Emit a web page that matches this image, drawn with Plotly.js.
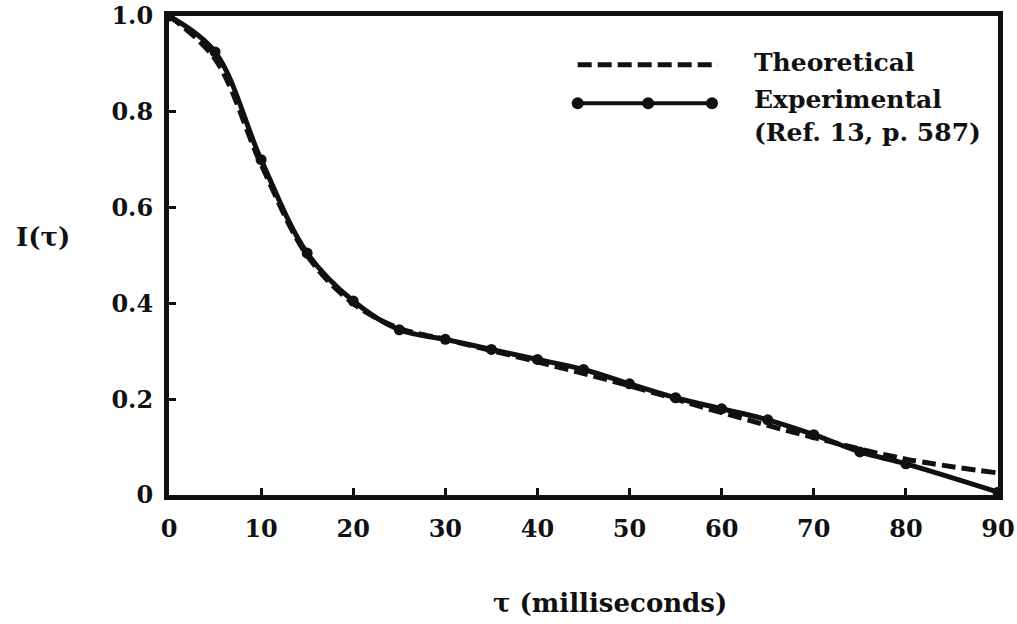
<!DOCTYPE html>
<html>
<head>
<meta charset="utf-8">
<script src="https://cdn.plot.ly/plotly-3.0.1.min.js"></script>
<style>html,body{margin:0;padding:0;background:#fff;}#chart{width:1017px;height:624px;}</style>
</head>
<body>
<div id="chart"></div>
<script>
// Data
const expTau = [0, 5, 10, 15, 20, 25, 30, 35, 40, 45, 50, 55, 60, 65, 70, 75, 80, 90];
const expI   = [1.0, 0.925, 0.70, 0.505, 0.405, 0.345, 0.325, 0.304, 0.283, 0.262, 0.232, 0.203, 0.180, 0.157, 0.126, 0.090, 0.065, 0.006];
const theoTau = [0, 5, 10, 15, 20, 25, 30, 40, 50, 60, 70, 80, 90];
const theoI   = [1.0, 0.91, 0.69, 0.50, 0.40, 0.348, 0.325, 0.278, 0.228, 0.172, 0.120, 0.075, 0.046];
const xTicks = [0, 10, 20, 30, 40, 50, 60, 70, 80, 90];
const yTicks = [0, 0.2, 0.4, 0.6, 0.8, 1.0];
const yTickText = ["0", "0.2", "0.4", "0.6", "0.8", "1.0"];
const legendLabels = ["Theoretical", "Experimental", "(Ref. 13, p. 587)"];
const xTitle = "τ (milliseconds)";
const yTitle = "I(τ)";

const FONT = "DejaVu Serif, Liberation Serif, serif";

const traces = [
  {x: theoTau, y: theoI, mode: "lines", line: {color: "#111", width: 5, dash: "14px,6px", shape: "spline", smoothing: 1.0}, hoverinfo: "skip"},
  {x: expTau, y: expI, mode: "lines+markers", line: {color: "#111", width: 5, shape: "spline", smoothing: 1.0},
   marker: {color: "#111", size: 11}, hoverinfo: "skip"}
];

function circ(xa, ya) {
  return {type: "circle", xref: "paper", yref: "paper", xsizemode: "pixel", ysizemode: "pixel",
    xanchor: xa, yanchor: ya, x0: -6, x1: 6, y0: -6, y1: 6, fillcolor: "#111", line: {width: 0}};
}

const layout = {
  width: 1017, height: 624,
  margin: {l: 169, r: 19, t: 16, b: 129},
  paper_bgcolor: "#fff", plot_bgcolor: "#fff",
  showlegend: false,
  font: {family: FONT, color: "#111", size: 20},
  xaxis: {range: [0, 90], tickvals: xTicks, ticktext: xTicks.map(String), ticks: "inside", ticklen: 7, tickwidth: 3,
    tickcolor: "#111", showline: true, linewidth: 5, linecolor: "#111", mirror: true, showgrid: false, zeroline: false,
    ticklabelstandoff: 8, tickfont: {family: FONT, size: 24, weight: "bold"}},
  yaxis: {range: [0, 1.0], tickvals: yTicks, ticktext: yTickText, ticks: "inside", ticklen: 7, tickwidth: 3,
    tickcolor: "#111", showline: true, linewidth: 5, linecolor: "#111", mirror: true, showgrid: false, zeroline: false,
    ticklabelstandoff: 6, tickfont: {family: FONT, size: 24, weight: "bold"}},
  shapes: [
    {type: "line", xref: "paper", yref: "paper", x0: 0.493, x1: 0.662, y0: 0.898, y1: 0.898,
     line: {color: "#111", width: 5, dash: "14px,6px"}},
    {type: "line", xref: "paper", yref: "paper", x0: 0.493, x1: 0.655, y0: 0.818, y1: 0.818,
     line: {color: "#111", width: 4}},
    circ(0.493, 0.818), circ(0.578, 0.818), circ(0.655, 0.818)
  ],
  annotations: [
    {xref: "paper", yref: "paper", x: 0.703, y: 0.902, xanchor: "left", yanchor: "middle", showarrow: false,
     text: "<b>" + legendLabels[0] + "</b>", font: {family: FONT, size: 25}},
    {xref: "paper", yref: "paper", x: 0.703, y: 0.825, xanchor: "left", yanchor: "middle", showarrow: false,
     text: "<b>" + legendLabels[1] + "</b>", font: {family: FONT, size: 25}},
    {xref: "paper", yref: "paper", x: 0.703, y: 0.756, xanchor: "left", yanchor: "middle", showarrow: false,
     text: "<b>" + legendLabels[2] + "</b>", font: {family: FONT, size: 25}},
    {xref: "paper", yref: "paper", x: 0.532, y: -0.2255, xanchor: "center", yanchor: "middle", showarrow: false,
     text: "<b>" + xTitle + "</b>", font: {family: FONT, size: 26}},
    {xref: "paper", yref: "paper", x: -0.152, y: 0.539, xanchor: "center", yanchor: "middle", showarrow: false,
     text: "<b>" + yTitle + "</b>", font: {family: FONT, size: 26}}
  ]
};

Plotly.newPlot("chart", traces, layout, {staticPlot: true, displayModeBar: false});
</script>
</body>
</html>
